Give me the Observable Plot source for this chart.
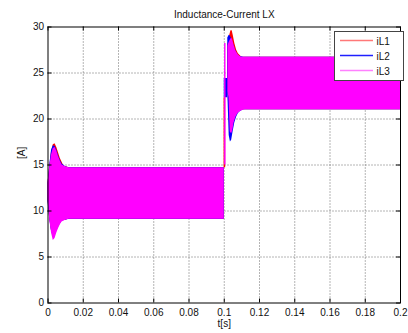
<!DOCTYPE html>
<html><head><meta charset="utf-8">
<script src="https://cdn.jsdelivr.net/npm/d3@7"></script>
<script src="https://cdn.jsdelivr.net/npm/@observablehq/plot@0.6"></script>
<style>
html,body{margin:0;padding:0;background:#fff;}
#chart{width:408px;height:333px;}
</style></head><body><div id="chart"></div>
<script>
const title = "Inductance-Current LX";
const xLabel = "t[s]";
const yLabel = "[A]";
const seriesNames = ["iL1", "iL2", "iL3"];
const xTicks = [0, 0.02, 0.04, 0.06, 0.08, 0.1, 0.12, 0.14, 0.16, 0.18, 0.2];
const yTicks = [0, 5, 10, 15, 20, 25, 30];

// Envelope (min / max) of the switching ripple of each current.
// null separates segments.
const iL1_t  = [0, 0.001, 0.002, 0.003, 0.004, 0.005, 0.006, 0.007, 0.008, 0.009, 0.012, 0.1, null, 0.0999, 0.1008, null, 0.1020, 0.1030, 0.1038, 0.1045, 0.1052, 0.1060, 0.1070, 0.1080, 0.1090, 0.1100, 0.1130, 0.2];
const iL1_lo = [11.2, 9.2, 7.9, 7.3, 7.4, 7.9, 8.4, 8.7, 8.9, 9.0, 9.1, 9.1, null, 14.7, 14.7, null, 23.5, 19.5, 18.7, 18.8, 19.5, 20.0, 20.4, 20.7, 20.9, 21.0, 21.0, 21.0];
const iL1_hi = [13.0, 14.8, 16.4, 17.2, 17.3, 16.9, 16.3, 15.7, 15.3, 14.9, 14.7, 14.7, null, 22.3, 22.3, null, 28.0, 29.0, 29.6, 29.6, 29.0, 28.2, 27.5, 27.1, 26.9, 26.7, 26.7, 26.7];

const iL2_t  = [0, 0.001, 0.002, 0.003, 0.004, 0.005, 0.006, 0.007, 0.008, 0.010, 0.012, 0.1, null, 0.1000, 0.1019, null, 0.1020, 0.1028, 0.1035, 0.1042, 0.1050, 0.1060, 0.1070, 0.1080, 0.1090, 0.1110, 0.2];
const iL2_lo = [11.0, 9.1, 7.8, 7.2, 7.3, 7.8, 8.3, 8.6, 8.9, 9.0, 9.1, 9.1, null, 22.3, 22.3, null, 23.0, 18.2, 17.5, 17.7, 18.6, 19.6, 20.2, 20.6, 20.8, 21.0, 21.0];
const iL2_hi = [13.0, 15.0, 16.6, 17.1, 17.0, 16.6, 16.0, 15.5, 15.1, 14.8, 14.7, 14.7, null, 24.4, 24.4, null, 28.8, 29.1, 29.0, 28.7, 28.3, 27.7, 27.2, 26.9, 26.8, 26.7, 26.7];

const iL3_t  = [0, 0.001, 0.002, 0.003, 0.004, 0.005, 0.006, 0.007, 0.008, 0.010, 0.012, 0.1, null, 0.1002, 0.1010, null, 0.1021, 0.1027, 0.1034, 0.1042, 0.1048, 0.1056, 0.1066, 0.1078, 0.1090, 0.1100, 0.1120, 0.2];
const iL3_lo = [11.5, 9.0, 7.6, 6.8, 7.0, 7.6, 8.1, 8.5, 8.8, 9.0, 9.1, 9.1, null, 15.0, 15.0, null, 23.0, 22.3, 18.6, 18.4, 18.7, 19.6, 20.2, 20.6, 20.8, 20.9, 21.0, 21.0];
const iL3_hi = [13.0, 14.8, 16.1, 16.8, 16.9, 16.5, 15.9, 15.4, 15.0, 14.8, 14.7, 14.7, null, 28.2, 28.2, null, 27.9, 28.3, 28.6, 28.8, 28.6, 28.0, 27.4, 27.0, 26.8, 26.7, 26.7, 26.7];

const toRows = (name, t, lo, hi) => t.map((d, i) => ({series: name, t: d, lo: lo[i], hi: hi[i]}));
const rows = [
  ...toRows(seriesNames[0], iL1_t, iL1_lo, iL1_hi),
  ...toRows(seriesNames[1], iL2_t, iL2_lo, iL2_hi),
  ...toRows(seriesNames[2], iL3_t, iL3_lo, iL3_hi)
];

const colors = ["#ff0000", "#0000ff", "#ff00ff"];
const legendColors = ["#ff7878", "#2020ff", "#ff80ff"];
const W = 408, H = 333, mL = 47.5, mR = 8, mT = 26.5, mB = 30.5;
const innerW = W - mL - mR, innerH = H - mT - mB, tick = 4;
const font = "'Liberation Sans', Arial, Helvetica, sans-serif";

const plot = Plot.plot({
  width: W, height: H,
  marginLeft: mL, marginRight: mR, marginTop: mT, marginBottom: mB,
  style: {fontFamily: font, fontSize: "10px", color: "#111", background: "#fff", overflow: "visible"},
  x: {domain: [0, 0.2], ticks: xTicks, tickFormat: d => String(d), tickSize: 0, tickPadding: 5.5, label: null},
  y: {domain: [0, 30], ticks: yTicks, tickFormat: d => String(d), tickSize: 0, tickPadding: 4, label: null},
  color: {domain: seriesNames, range: colors},
  marks: [
    Plot.ruleX(xTicks.slice(1, -1), {x: d => d, stroke: "#6a6a6a", strokeDasharray: "1,2"}),
    Plot.ruleY(yTicks.slice(1, -1), {y: d => d, stroke: "#6a6a6a", strokeDasharray: "1,2"}),
    Plot.areaY(rows, {x: "t", y1: "lo", y2: "hi", fill: "series", curve: "linear"}),
    Plot.ruleX(xTicks, {x: d => d, insetTop: innerH - tick, stroke: "#000"}),
    Plot.ruleX(xTicks, {x: d => d, insetBottom: innerH - tick, stroke: "#000"}),
    Plot.ruleY(yTicks, {y: d => d, insetRight: innerW - tick, stroke: "#000"}),
    Plot.ruleY(yTicks, {y: d => d, insetLeft: innerW - tick, stroke: "#000"}),
    Plot.frame({stroke: "#000"}),
    Plot.text([title], {text: d => d, frameAnchor: "top", dy: -12.5, lineAnchor: "middle", fill: "#111", fontSize: 10}),
    Plot.text([xLabel], {text: d => d, frameAnchor: "bottom", dy: 20.5, lineAnchor: "middle", fill: "#111", fontSize: 10}),
    Plot.text([yLabel], {text: d => d, frameAnchor: "left", dx: -26, dy: -6, rotate: -90, lineAnchor: "middle", fill: "#111", fontSize: 10})
  ]
});

document.getElementById("chart").appendChild(plot);

// legend (MATLAB style box, top right)
const svg = d3.select(plot);
const lg = svg.append("g").attr("font-family", font).attr("font-size", 10).attr("text-anchor", "start");
lg.append("rect").attr("x", 334.5).attr("y", 31.5).attr("width", 69).attr("height", 49)
  .attr("fill", "#fff").attr("stroke", "#444").attr("stroke-width", 1);
seriesNames.forEach((name, i) => {
  const yy = 40.5 + 15 * i;
  lg.append("line").attr("x1", 340).attr("x2", 373).attr("y1", yy).attr("y2", yy)
    .attr("stroke", legendColors[i]).attr("stroke-width", 1.5);
  lg.append("text").attr("x", 376.5).attr("y", yy + 1).attr("dy", "0.35em")
    .attr("text-anchor", "start").attr("fill", "#111").text(name);
});
</script>
</body></html>
